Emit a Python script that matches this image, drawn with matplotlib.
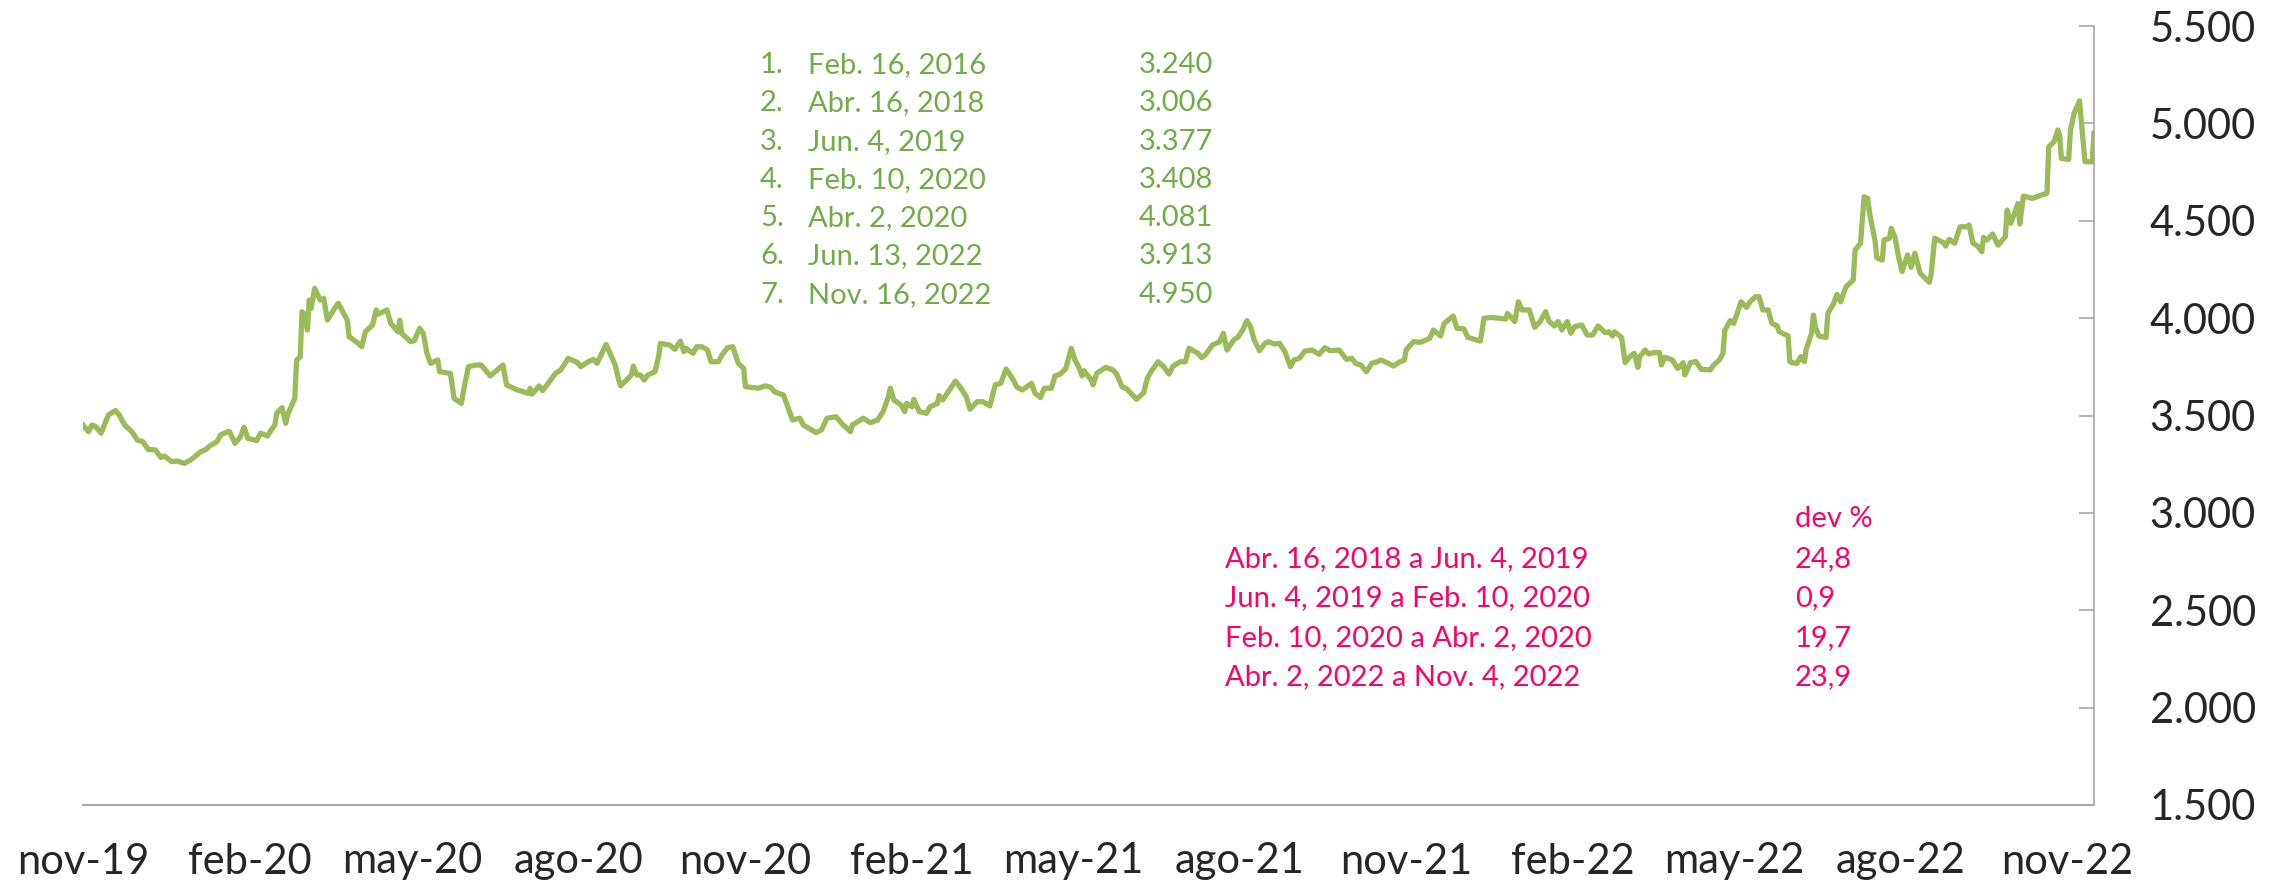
import matplotlib
matplotlib.use("Agg")
import matplotlib.pyplot as plt
from matplotlib.ticker import FuncFormatter, MultipleLocator
import pandas as pd

# Tasa de cambio diaria, nov-2019 a nov-2022
fechas = [
    "2019-11-01", "2019-11-04", "2019-11-06", "2019-11-08", "2019-11-11", "2019-11-15", "2019-11-19", "2019-11-21", "2019-11-24", "2019-11-28",
    "2019-12-01", "2019-12-04", "2019-12-07", "2019-12-11", "2019-12-14", "2019-12-16", "2019-12-20", "2019-12-23", "2019-12-27", "2019-12-31",
    "2020-01-05", "2020-01-08", "2020-01-10", "2020-01-14", "2020-01-16", "2020-01-20", "2020-01-21", "2020-01-24", "2020-01-27", "2020-01-29", "2020-01-31",
    "2020-02-05", "2020-02-07", "2020-02-11", "2020-02-13", "2020-02-15", "2020-02-16", "2020-02-19", "2020-02-21", "2020-02-22", "2020-02-26", "2020-02-27", "2020-02-29",
    "2020-03-01", "2020-03-02", "2020-03-04", "2020-03-05", "2020-03-06", "2020-03-08", "2020-03-11", "2020-03-13", "2020-03-15", "2020-03-19", "2020-03-21", "2020-03-26", "2020-03-27",
    "2020-04-01", "2020-04-03", "2020-04-05", "2020-04-09", "2020-04-11", "2020-04-12", "2020-04-17", "2020-04-19", "2020-04-23", "2020-04-24", "2020-04-25", "2020-04-30",
    "2020-05-02", "2020-05-05", "2020-05-07", "2020-05-09", "2020-05-11", "2020-05-15", "2020-05-16", "2020-05-22", "2020-05-24", "2020-05-28", "2020-05-30",
    "2020-06-01", "2020-06-05", "2020-06-08", "2020-06-13", "2020-06-20", "2020-06-22", "2020-06-28",
    "2020-07-04", "2020-07-05", "2020-07-06", "2020-07-10", "2020-07-12", "2020-07-17", "2020-07-19", "2020-07-22", "2020-07-26", "2020-07-31",
    "2020-08-02", "2020-08-06", "2020-08-09", "2020-08-11", "2020-08-16", "2020-08-21", "2020-08-23", "2020-08-24", "2020-08-30", "2020-08-31",
    "2020-09-02", "2020-09-04", "2020-09-06", "2020-09-08", "2020-09-12", "2020-09-14", "2020-09-15", "2020-09-20", "2020-09-23", "2020-09-26", "2020-09-28", "2020-09-29",
    "2020-10-03", "2020-10-05", "2020-10-08", "2020-10-11", "2020-10-13", "2020-10-17", "2020-10-19", "2020-10-22", "2020-10-25", "2020-10-28", "2020-10-31",
    "2020-11-01", "2020-11-08", "2020-11-12", "2020-11-15", "2020-11-17", "2020-11-22", "2020-11-25", "2020-11-27",
    "2020-12-01", "2020-12-03", "2020-12-07", "2020-12-10", "2020-12-13", "2020-12-16", "2020-12-21", "2020-12-25", "2020-12-29", "2020-12-30",
    "2021-01-05", "2021-01-09", "2021-01-13", "2021-01-16", "2021-01-19", "2021-01-20", "2021-01-22", "2021-01-26", "2021-01-28", "2021-01-29",
    "2021-02-01", "2021-02-02", "2021-02-05", "2021-02-09", "2021-02-11", "2021-02-15", "2021-02-16", "2021-02-18", "2021-02-21", "2021-02-25", "2021-02-28",
    "2021-03-03", "2021-03-05", "2021-03-09", "2021-03-12", "2021-03-16", "2021-03-19", "2021-03-22", "2021-03-25", "2021-03-29", "2021-03-31",
    "2021-04-03", "2021-04-08", "2021-04-10", "2021-04-13", "2021-04-15", "2021-04-19", "2021-04-21", "2021-04-24", "2021-04-27", "2021-04-30",
    "2021-05-02", "2021-05-04", "2021-05-06", "2021-05-07", "2021-05-11", "2021-05-12", "2021-05-14", "2021-05-19", "2021-05-23", "2021-05-25", "2021-05-28", "2021-05-31",
    "2021-06-05", "2021-06-09", "2021-06-11", "2021-06-13", "2021-06-17", "2021-06-20", "2021-06-23", "2021-06-25", "2021-06-29",
    "2021-07-02", "2021-07-04", "2021-07-09", "2021-07-11", "2021-07-13", "2021-07-17", "2021-07-21", "2021-07-23", "2021-07-25", "2021-07-29", "2021-07-31",
    "2021-08-03", "2021-08-05", "2021-08-07", "2021-08-09", "2021-08-12", "2021-08-15", "2021-08-17", "2021-08-20", "2021-08-23", "2021-08-26", "2021-08-29", "2021-08-31",
    "2021-09-03", "2021-09-06", "2021-09-10", "2021-09-14", "2021-09-17", "2021-09-20", "2021-09-25", "2021-09-29",
    "2021-10-02", "2021-10-04", "2021-10-07", "2021-10-10", "2021-10-13", "2021-10-16", "2021-10-18", "2021-10-22", "2021-10-25", "2021-10-28", "2021-10-31",
    "2021-11-01", "2021-11-05", "2021-11-09", "2021-11-14", "2021-11-16", "2021-11-20", "2021-11-22", "2021-11-27", "2021-11-29",
    "2021-12-03", "2021-12-05", "2021-12-12", "2021-12-14", "2021-12-18", "2021-12-26", "2021-12-27", "2021-12-31",
    "2022-01-02", "2022-01-04", "2022-01-08", "2022-01-11", "2022-01-14", "2022-01-17", "2022-01-19", "2022-01-22", "2022-01-24", "2022-01-26", "2022-01-29", "2022-01-31",
    "2022-02-02", "2022-02-06", "2022-02-09", "2022-02-12", "2022-02-15", "2022-02-19", "2022-02-21", "2022-02-23", "2022-02-24", "2022-02-28",
    "2022-03-02", "2022-03-05", "2022-03-07", "2022-03-09", "2022-03-10", "2022-03-13", "2022-03-15", "2022-03-18", "2022-03-21", "2022-03-22", "2022-03-24", "2022-03-28", "2022-03-31",
    "2022-04-03", "2022-04-04", "2022-04-07", "2022-04-10", "2022-04-13", "2022-04-18", "2022-04-20", "2022-04-23", "2022-04-25", "2022-04-26", "2022-04-29",
    "2022-05-01", "2022-05-05", "2022-05-08", "2022-05-10", "2022-05-13", "2022-05-15", "2022-05-17", "2022-05-20", "2022-05-22", "2022-05-25", "2022-05-26", "2022-05-31",
    "2022-06-01", "2022-06-02", "2022-06-05", "2022-06-07", "2022-06-09", "2022-06-10", "2022-06-13", "2022-06-14", "2022-06-15", "2022-06-17", "2022-06-21", "2022-06-22", "2022-06-25", "2022-06-27", "2022-06-29",
    "2022-07-02", "2022-07-06", "2022-07-07", "2022-07-10", "2022-07-12", "2022-07-14", "2022-07-15", "2022-07-18", "2022-07-19", "2022-07-22", "2022-07-23", "2022-07-26", "2022-07-27", "2022-07-29", "2022-07-31",
    "2022-08-02", "2022-08-05", "2022-08-07", "2022-08-09", "2022-08-12", "2022-08-17", "2022-08-18", "2022-08-20", "2022-08-25", "2022-08-26", "2022-08-28", "2022-08-31",
    "2022-09-03", "2022-09-07", "2022-09-08", "2022-09-10", "2022-09-13", "2022-09-15", "2022-09-16", "2022-09-18", "2022-09-21", "2022-09-24", "2022-09-28", "2022-09-29",
    "2022-10-01", "2022-10-05", "2022-10-06", "2022-10-08", "2022-10-11", "2022-10-13", "2022-10-18", "2022-10-21", "2022-10-22", "2022-10-25", "2022-10-27", "2022-10-28", "2022-10-29",
    "2022-11-02", "2022-11-03", "2022-11-05", "2022-11-08", "2022-11-11", "2022-11-15", "2022-11-16",
]
trm = [
    3451, 3417, 3451, 3443, 3409, 3503, 3525, 3503, 3451, 3417,
    3374, 3366, 3326, 3323, 3285, 3292, 3263, 3266, 3254, 3275,
    3314, 3326, 3344, 3366, 3400, 3417, 3417, 3357, 3391, 3439, 3383,
    3371, 3409, 3395, 3426, 3451, 3511, 3540, 3460, 3503, 3588, 3785, 3802,
    4033, 4024, 3939, 4093, 4050, 4153, 4093, 4101, 3990, 4050, 4076, 3990, 3905,
    3871, 3853, 3930, 3965, 4042, 4020, 4042, 3973, 3930, 3990, 3922, 3879,
    3884, 3948, 3922, 3819, 3768, 3785, 3725, 3716, 3588, 3562, 3665,
    3751, 3759, 3759, 3703, 3759, 3657, 3631,
    3614, 3640, 3609, 3652, 3628, 3691, 3716, 3734, 3793, 3773,
    3751, 3776, 3788, 3768, 3865, 3759, 3682, 3652, 3708, 3754,
    3708, 3708, 3682, 3708, 3725, 3802, 3870, 3862, 3840, 3882, 3828, 3845,
    3819, 3853, 3853, 3836, 3776, 3776, 3811, 3848, 3853, 3768, 3742,
    3648, 3640, 3652, 3645, 3622, 3605, 3528, 3477,
    3486, 3451, 3429, 3412, 3426, 3486, 3494, 3451, 3417, 3451,
    3486, 3463, 3477, 3520, 3597, 3640, 3580, 3554, 3520, 3562,
    3545, 3583, 3520, 3511, 3545, 3562, 3602, 3580, 3622, 3677, 3640,
    3597, 3532, 3571, 3571, 3549, 3657, 3665, 3739, 3682, 3645,
    3631, 3665, 3614, 3592, 3640, 3640, 3703, 3713, 3742, 3845,
    3785, 3751, 3703, 3730, 3682, 3657, 3716, 3747, 3734, 3713, 3648, 3634,
    3583, 3617, 3691, 3725, 3776, 3751, 3713, 3751, 3776,
    3776, 3845, 3819, 3797, 3811, 3862, 3879, 3922, 3836, 3891, 3901,
    3944, 3987, 3956, 3888, 3833, 3871, 3879, 3867, 3871, 3828, 3751, 3785,
    3794, 3831, 3836, 3814, 3848, 3833, 3836, 3788,
    3794, 3768, 3759, 3725, 3768, 3776, 3785, 3768, 3754, 3773, 3785,
    3836, 3879, 3876, 3896, 3939, 3908, 3973, 4011, 3948,
    3944, 3901, 3882, 3999, 4004, 3995, 4024, 3982,
    4084, 4042, 4042, 3953, 3982, 4033, 3982, 3960, 3982, 3939, 3982, 3922,
    3956, 3965, 3913, 3913, 3960, 3925, 3930, 3908, 3930, 3901,
    3771, 3806, 3819, 3747, 3802, 3836, 3816, 3824, 3823, 3760, 3799, 3785, 3742,
    3771, 3708, 3771, 3777, 3737, 3734, 3760, 3785, 3819, 3936, 3987,
    3973, 4084, 4055, 4084, 4110, 4110, 4042, 4042, 3973, 3960, 3931, 3908,
    3777, 3771, 3768, 3802, 3777, 3840, 3922, 4016, 3956, 3908, 3901, 4025, 4072, 4122, 4084,
    4161, 4196, 4350, 4384, 4623, 4615, 4538, 4401, 4310, 4298, 4401, 4410, 4461, 4418, 4315,
    4239, 4324, 4261, 4333, 4230, 4184, 4221, 4410, 4387, 4370, 4404, 4384,
    4469, 4469, 4478, 4387, 4367, 4341, 4415, 4401, 4432, 4375, 4418, 4555,
    4487, 4589, 4483, 4627, 4620, 4615, 4632, 4641, 4880, 4906, 4966, 4940, 4820,
    4815, 4966, 5051, 5116, 4803, 4803, 4950,
]

tick_fechas = ["2019-11-01", "2020-02-01", "2020-05-01", "2020-08-01", "2020-11-01", "2021-02-01", "2021-05-01",
               "2021-08-01", "2021-11-01", "2022-02-01", "2022-05-01", "2022-08-01", "2022-11-01"]
tick_labels = ["nov-19", "feb-20", "may-20", "ago-20", "nov-20", "feb-21", "may-21",
               "ago-21", "nov-21", "feb-22", "may-22", "ago-22", "nov-22"]

rank_num = ["1.", "2.", "3.", "4.", "5.", "6.", "7."]
rank_fecha = ["Feb. 16, 2016", "Abr. 16, 2018", "Jun. 4, 2019", "Feb. 10, 2020",
              "Abr. 2, 2020", "Jun. 13, 2022", "Nov. 16, 2022"]
rank_valor = ["3.240", "3.006", "3.377", "3.408", "4.081", "3.913", "4.950"]

dev_periodo = ["Abr. 16, 2018 a Jun. 4, 2019", "Jun. 4, 2019 a Feb. 10, 2020",
               "Feb. 10, 2020 a Abr. 2, 2020", "Abr. 2, 2022 a Nov. 4, 2022"]
dev_valor = ["24,8", "0,9", "19,7", "23,9"]

assert len(fechas) == len(trm)

plt.rcParams['font.family'] = ['Lato', 'DejaVu Sans']

W, H = 2292, 892
fig = plt.figure(figsize=(W / 100, H / 100), dpi=100)
fig.patch.set_facecolor('white')
ax = fig.add_axes([83 / W, 1 - 805 / H, (2094 - 83) / W, (805 - 26) / H])

x = pd.to_datetime(fechas)
ax.plot(x, trm, color="#9BBB59", linewidth=3.8, solid_joinstyle='round')

ax.set_xlim(x[0], x[-1])
ax.set_ylim(1500, 5500)
ax.yaxis.set_major_locator(MultipleLocator(500))
ax.yaxis.set_major_formatter(FuncFormatter(lambda v, p: f"{v:,.0f}".replace(",", ".")))
ax.yaxis.tick_right()

ax.set_xticks(pd.to_datetime(tick_fechas))
ax.set_xticklabels(tick_labels)

for side in ['top', 'left']:
    ax.spines[side].set_visible(False)
ax.spines['right'].set_color('#A6A6A6')
ax.spines['bottom'].set_color('#A6A6A6')
ax.spines['right'].set_linewidth(1.2)
ax.spines['bottom'].set_linewidth(1.5)

ax.tick_params(axis='y', direction='in', length=10.5, width=1.2, color='#A6A6A6',
               labelsize=30, labelcolor='#262626', pad=40)
ax.tick_params(axis='x', length=0, labelsize=30, labelcolor='#262626', pad=27)

# Ranking de valores (texto verde)
verde = "#70AD47"
for i in range(len(rank_num)):
    yb = 1 - (73 + 38.3 * i) / H
    fig.text(760 / W, yb, rank_num[i], color=verde, fontsize=21, va='baseline', ha='left')
    fig.text(808 / W, yb, rank_fecha[i], color=verde, fontsize=21, va='baseline', ha='left')
    fig.text(1213 / W, yb, rank_valor[i], color=verde, fontsize=21, va='baseline', ha='right')

# Devaluaciones (texto rosado)
rosa = "#FF0066"
fig.text(1795 / W, 1 - 527 / H, "dev %", color=rosa, fontsize=21, va='baseline', ha='left')
for i in range(len(dev_periodo)):
    yb = 1 - (567 + 39.5 * i) / H
    fig.text(1225 / W, yb, dev_periodo[i], color=rosa, fontsize=21, va='baseline', ha='left')
    fig.text(1795 / W, yb, dev_valor[i], color=rosa, fontsize=21, va='baseline', ha='left')

fig.savefig("out.png", dpi=100)
